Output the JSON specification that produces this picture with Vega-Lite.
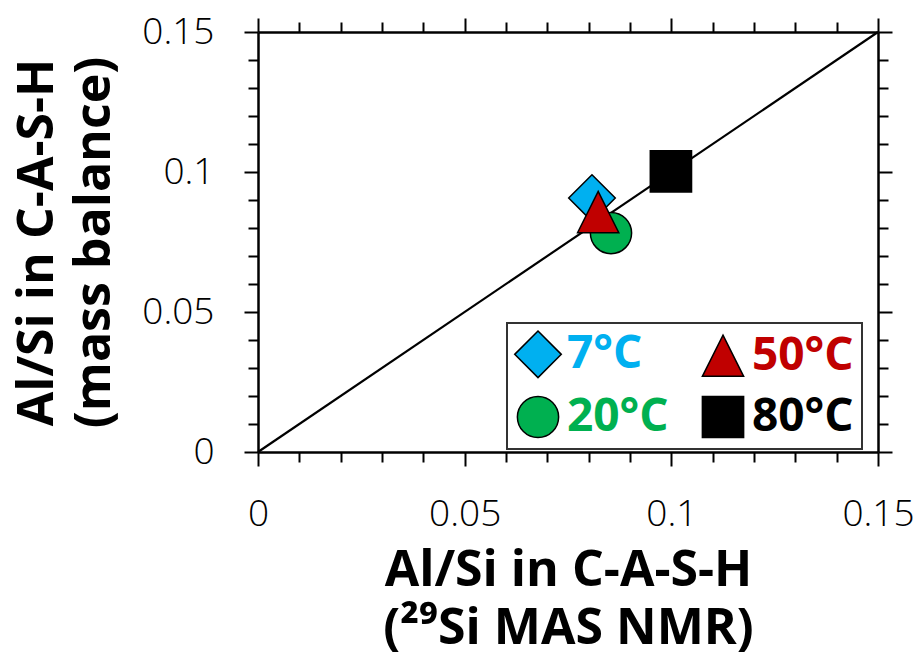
{
  "$schema": "https://vega.github.io/schema/vega-lite/v6.json",
  "width": 620,
  "height": 420,
  "autosize": "none",
  "padding": {"left": 258, "top": 32, "right": 41, "bottom": 207},
  "background": "white",
  "config": {"view": {"stroke": null}, "font": "Open Sans"},
  "datasets": {
    "points": [
      {"temp": "7°C", "nmr": 0.0808, "mb": 0.0907},
      {"temp": "20°C", "nmr": 0.0854, "mb": 0.0782},
      {"temp": "50°C", "nmr": 0.0823, "mb": 0.0857},
      {"temp": "80°C", "nmr": 0.0999, "mb": 0.1002}
    ],
    "diag": [
      {"nmr": 0, "mb": 0},
      {"nmr": 0.15, "mb": 0.15}
    ]
  },
  "layer": [
    {
      "data": {"name": "diag"},
      "mark": {"type": "line", "color": "black", "strokeWidth": 2.2},
      "encoding": {
        "x": {
          "field": "nmr", "type": "quantitative",
          "scale": {"domain": [0, 0.15], "nice": false, "zero": false},
          "axis": {
            "orient": "top", "title": null, "labels": false, "grid": false,
            "domainColor": "black", "domainWidth": 2.5, "tickColor": "black", "tickWidth": 2,
            "values": [0, 0.01, 0.02, 0.03, 0.04, 0.05, 0.06, 0.07, 0.08, 0.09, 0.1, 0.11, 0.12, 0.13, 0.14, 0.15],
            "tickSize": {"condition": {"test": "round(datum.value*100)%5===0", "value": 14}, "value": 10}
          }
        },
        "y": {
          "field": "mb", "type": "quantitative",
          "scale": {"domain": [0, 0.15], "nice": false, "zero": false},
          "axis": {
            "orient": "right", "title": null, "labels": false, "grid": false,
            "domainColor": "black", "domainWidth": 2.5, "tickColor": "black", "tickWidth": 2,
            "values": [0, 0.01, 0.02, 0.03, 0.04, 0.05, 0.06, 0.07, 0.08, 0.09, 0.1, 0.11, 0.12, 0.13, 0.14, 0.15],
            "tickSize": {"condition": {"test": "round(datum.value*100)%5===0", "value": 14}, "value": 10}
          }
        }
      }
    },
    {
      "data": {"name": "points"},
      "mark": {"type": "point", "filled": true, "stroke": "black", "strokeWidth": 1.5, "size": 1700, "opacity": 1},
      "encoding": {
        "x": {
          "field": "nmr", "type": "quantitative",
          "scale": {"domain": [0, 0.15], "nice": false, "zero": false},
          "axis": {
            "orient": "bottom", "grid": false,
            "title": ["Al/Si in C-A-S-H", "(²⁹Si MAS NMR)"],
            "titleFont": "Open Sans", "titleFontSize": 50, "titleFontWeight": "bold", "titleColor": "black",
            "titleLineHeight": 58, "titlePadding": 13,
            "labelFont": "Open Sans", "labelFontSize": 37, "labelFontWeight": 300, "labelColor": "black",
            "labelPadding": 30, "labelFlush": false, "labelOverlap": false,
            "format": "~g",
            "labelExpr": "round(datum.value*100)%5===0 ? datum.label : ''",
            "domainColor": "black", "domainWidth": 2.5, "tickColor": "black", "tickWidth": 2,
            "values": [0, 0.01, 0.02, 0.03, 0.04, 0.05, 0.06, 0.07, 0.08, 0.09, 0.1, 0.11, 0.12, 0.13, 0.14, 0.15],
            "tickSize": {"condition": {"test": "round(datum.value*100)%5===0", "value": 14}, "value": 10}
          }
        },
        "y": {
          "field": "mb", "type": "quantitative",
          "scale": {"domain": [0, 0.15], "nice": false, "zero": false},
          "axis": {
            "orient": "left", "grid": false,
            "title": ["Al/Si in C-A-S-H", "(mass balance)"],
            "titleFont": "Open Sans", "titleFontSize": 50, "titleFontWeight": "bold", "titleColor": "black",
            "titleLineHeight": 57, "titlePadding": 22,
            "labelFont": "Open Sans", "labelFontSize": 37, "labelFontWeight": 300, "labelColor": "black",
            "labelPadding": 30, "labelFlush": false, "labelOverlap": false,
            "format": "~g",
            "labelExpr": "round(datum.value*100)%5===0 ? datum.label : ''",
            "domainColor": "black", "domainWidth": 2.5, "tickColor": "black", "tickWidth": 2,
            "values": [0, 0.01, 0.02, 0.03, 0.04, 0.05, 0.06, 0.07, 0.08, 0.09, 0.1, 0.11, 0.12, 0.13, 0.14, 0.15],
            "tickSize": {"condition": {"test": "round(datum.value*100)%5===0", "value": 14}, "value": 10}
          }
        },
        "color": {
          "field": "temp", "type": "nominal",
          "scale": {"domain": ["7°C", "20°C", "50°C", "80°C"], "range": ["#00B0F0", "#00B050", "#C00000", "#000000"]},
          "legend": {
            "title": null, "orient": "none", "legendX": 249, "legendY": 291, "columns": 2,
            "fillColor": "white", "strokeColor": "#333333", "padding": 8,
            "symbolSize": 1700, "symbolStrokeColor": "black", "symbolStrokeWidth": 1.5, "symbolOpacity": 1,
            "labelFont": "Open Sans", "labelFontSize": 46, "labelFontWeight": "bold", "labelOffset": 6, "labelLimit": 0,
            "columnPadding": 30, "rowPadding": 12,
            "encode": {
              "legend": {"update": {"strokeWidth": {"value": 2}}},
              "labels": {"update": {"fill": {"scale": "color", "field": "value"}}}
            }
          }
        },
        "shape": {
          "field": "temp", "type": "nominal",
          "scale": {"domain": ["7°C", "20°C", "50°C", "80°C"], "range": ["M0,-1.13L1.13,0L0,1.13L-1.13,0Z", "circle", "M0,-1L1,1L-1,1Z", "square"]},
          "legend": {
            "title": null, "orient": "none", "legendX": 249, "legendY": 291, "columns": 2,
            "fillColor": "white", "strokeColor": "#333333", "padding": 8,
            "symbolSize": 1700, "symbolStrokeColor": "black", "symbolStrokeWidth": 1.5, "symbolOpacity": 1,
            "labelFont": "Open Sans", "labelFontSize": 46, "labelFontWeight": "bold", "labelOffset": 6, "labelLimit": 0,
            "columnPadding": 30, "rowPadding": 12,
            "encode": {
              "legend": {"update": {"strokeWidth": {"value": 2}}},
              "labels": {"update": {"fill": {"scale": "color", "field": "value"}}}
            }
          }
        }
      }
    }
  ],
  "resolve": {"axis": {"x": "independent", "y": "independent"}}
}
